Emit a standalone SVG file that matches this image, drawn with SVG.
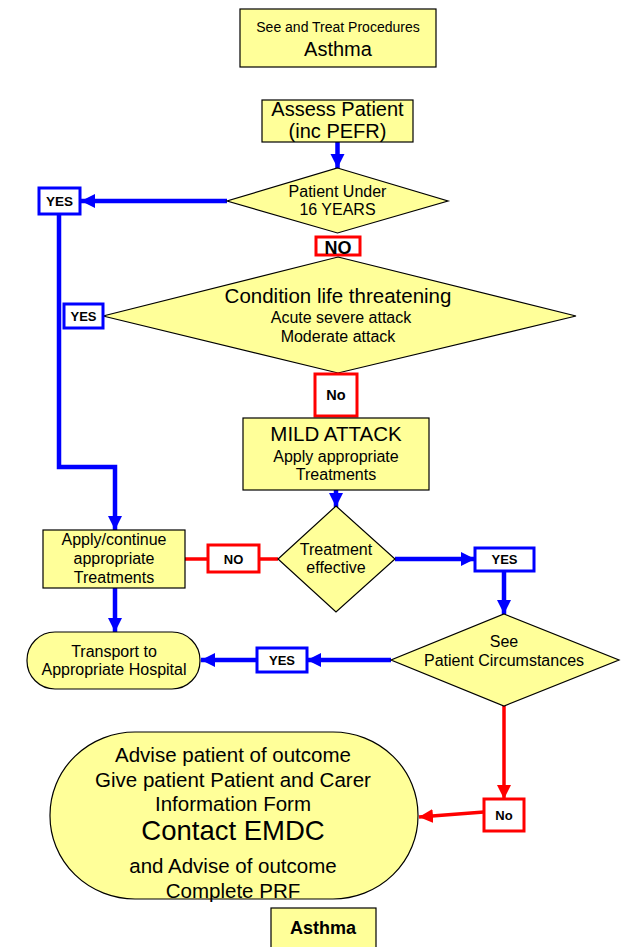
<svg xmlns="http://www.w3.org/2000/svg" width="621" height="947" viewBox="0 0 621 947">
<style>
.n{fill:#FFFF99;stroke:#000;stroke-width:1.2}
.lb{fill:#fff;stroke-width:3}
.b{stroke:#0000FF;stroke-width:4.5;fill:none}
.r{stroke:#FF0000;stroke-width:3.5;fill:none}
text{font-family:"Liberation Sans",Arial,sans-serif;fill:#000;text-anchor:middle}
.s16{font-size:16px}
.bold{font-weight:bold}
</style>
<defs>
<marker id="ab" markerUnits="userSpaceOnUse" markerWidth="16" markerHeight="16" refX="14" refY="8" orient="auto"><path d="M0,1 L14,8 L0,15 z" fill="#0000FF"/></marker>
<marker id="ar" markerUnits="userSpaceOnUse" markerWidth="16" markerHeight="16" refX="14" refY="8" orient="auto"><path d="M0,1 L14,8 L0,15 z" fill="#FF0000"/></marker>
</defs>
<rect width="621" height="947" fill="#fff"/>
<g id="connectors">
<line class="b" x1="337.5" y1="142" x2="337.5" y2="168" marker-end="url(#ab)"/>
<line class="b" x1="227" y1="201" x2="81" y2="201" marker-end="url(#ab)"/>
<polyline class="b" points="59,214 59,467 115,467 115,530" marker-end="url(#ab)"/>
<line class="b" x1="336" y1="490" x2="336" y2="507" marker-end="url(#ab)"/>
<line class="r" x1="185" y1="559" x2="278" y2="559"/>
<line class="b" x1="395" y1="559" x2="475" y2="559" marker-end="url(#ab)"/>
<line class="b" x1="504" y1="571" x2="504" y2="614" marker-end="url(#ab)"/>
<line class="b" x1="115" y1="588" x2="115" y2="632" marker-end="url(#ab)"/>
<line class="b" x1="391" y1="660" x2="307" y2="660" marker-end="url(#ab)"/>
<line class="b" x1="257" y1="660" x2="201" y2="660" marker-end="url(#ab)"/>
<line class="r" x1="504" y1="706" x2="504" y2="799" marker-end="url(#ar)"/>
<line class="r" x1="484" y1="812" x2="419" y2="817" marker-end="url(#ar)"/>
</g>
<g id="title">
<rect class="n" x="240" y="9" width="196" height="58"/>
<text x="338" y="32" font-size="14">See and Treat Procedures</text>
<text x="338" y="56" font-size="20">Asthma</text>
</g>
<g id="assess">
<rect class="n" x="262" y="100" width="151" height="42"/>
<text x="337.5" y="116" font-size="20">Assess Patient</text>
<text x="337.5" y="138" font-size="20">(inc PEFR)</text>
</g>
<g id="under16">
<polygon class="n" points="337.5,168 448,201 337.5,233 227,201"/>
<text class="s16" x="337.5" y="197">Patient Under</text>
<text class="s16" x="337.5" y="215">16 YEARS</text>
</g>
<g id="yes1">
<rect class="lb" x="39" y="188" width="41" height="26" stroke="#0000FF"/>
<text class="bold" x="59.5" y="206" font-size="13.5">YES</text>
</g>
<g id="no1">
<rect class="lb" x="316" y="237" width="44" height="18" stroke="#FF0000"/>
<text class="bold" x="338" y="254" font-size="18">NO</text>
</g>
<g id="lifethreat">
<polygon class="n" points="338,257 576,316 338,373 103,316"/>
<text x="338" y="303" font-size="20.5">Condition life threatening</text>
<text class="s16" x="341" y="323">Acute severe attack</text>
<text class="s16" x="338" y="342">Moderate attack</text>
</g>
<g id="yes2">
<rect class="lb" x="64" y="304" width="39" height="24" stroke="#0000FF"/>
<text class="bold" x="83.5" y="321" font-size="13">YES</text>
</g>
<g id="no2">
<rect class="lb" x="315" y="374" width="42" height="42" stroke="#FF0000"/>
<text class="bold" x="336" y="400" font-size="14.5">No</text>
</g>
<g id="mild">
<rect class="n" x="243" y="418" width="186" height="72"/>
<text x="336" y="441" font-size="20.5">MILD ATTACK</text>
<text class="s16" x="336" y="462">Apply appropriate</text>
<text class="s16" x="336" y="480">Treatments</text>
</g>
<g id="effective">
<polygon class="n" points="336,506 395,559 336,612 278,559"/>
<text class="s16" x="336" y="555">Treatment</text>
<text class="s16" x="336" y="573">effective</text>
</g>
<g id="apply">
<rect class="n" x="43" y="530" width="142" height="58"/>
<text class="s16" x="114" y="545">Apply/continue</text>
<text class="s16" x="114" y="564">appropriate</text>
<text class="s16" x="114" y="583">Treatments</text>
</g>
<g id="no3">
<rect class="lb" x="208" y="545" width="51" height="27" stroke="#FF0000"/>
<text class="bold" x="233.5" y="563.5" font-size="13">NO</text>
</g>
<g id="yes3">
<rect class="lb" x="475" y="548" width="59" height="23" stroke="#0000FF"/>
<text class="bold" x="504.5" y="564" font-size="13">YES</text>
</g>
<g id="circumstances">
<polygon class="n" points="504,614 619,660 504,706 391,660"/>
<text class="s16" x="504" y="647">See</text>
<text class="s16" x="504" y="666">Patient Circumstances</text>
</g>
<g id="yes4">
<rect class="lb" x="257" y="648" width="50" height="24" stroke="#0000FF"/>
<text class="bold" x="282" y="665" font-size="13">YES</text>
</g>
<g id="transport">
<rect class="n" x="27" y="632" width="173" height="57" rx="28" ry="28"/>
<text class="s16" x="114" y="657">Transport to</text>
<text class="s16" x="114" y="675">Appropriate Hospital</text>
</g>
<g id="no4">
<rect class="lb" x="484" y="799" width="40" height="32" stroke="#FF0000"/>
<text class="bold" x="504" y="820" font-size="13">No</text>
</g>
<g id="advise">
<rect class="n" x="50" y="732" width="368" height="167" rx="85" ry="83"/>
<text x="233" y="762" font-size="20.5">Advise patient of outcome</text>
<text x="233" y="787" font-size="20.5">Give patient Patient and Carer</text>
<text x="233" y="811" font-size="20.5">Information Form</text>
<text x="233" y="840" font-size="27.5">Contact EMDC</text>
<text x="233" y="873" font-size="20.5">and Advise of outcome</text>
<text x="233" y="898" font-size="20.5">Complete PRF</text>
</g>
<g id="footer">
<rect class="n" x="271" y="908" width="105" height="45"/>
<text class="bold" x="323" y="934" font-size="18">Asthma</text>
</g>
</svg>
